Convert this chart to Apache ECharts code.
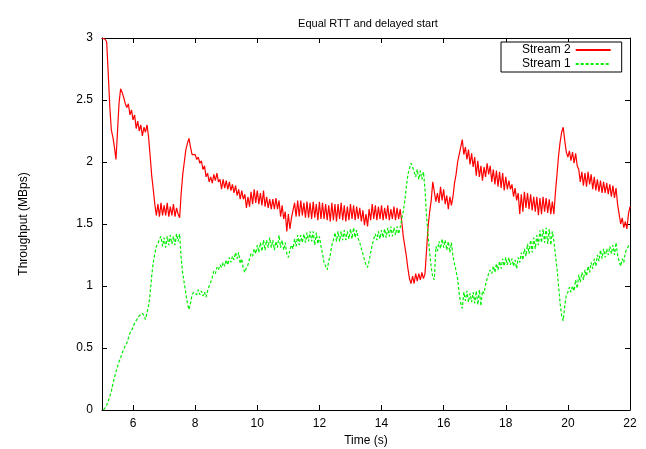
<!DOCTYPE html>
<html>
<head>
<meta charset="utf-8">
<script src="https://cdn.jsdelivr.net/npm/echarts@6/dist/echarts.min.js"></script>
<style>
html,body{margin:0;padding:0;background:#fff;}
#chart{width:646px;height:449px;}
</style>
</head>
<body>
<div id="chart"></div>
<script>
// Time grid: samples every 0.05 s starting at 5.0 s
const timeStart = 5.0;
const timeStep = 0.05;
const xTicks = [6, 8, 10, 12, 14, 16, 18, 20, 22];
const yTicks = [0, 0.5, 1, 1.5, 2, 2.5, 3];
const seriesNames = ['Stream 2', 'Stream 1'];

// Stream 2 throughput (MBps) (one row per second)
const stream2 = [
  3.00,3.00,2.99,2.97,2.72,2.45,2.26,2.20,2.12,2.02,2.25,2.48,2.59,2.56,2.52,2.47,2.44,2.47,2.38,2.42,
  2.34,2.38,2.27,2.33,2.25,2.30,2.21,2.28,2.24,2.30,2.20,2.05,1.89,1.78,1.66,1.57,1.66,1.56,1.67,1.57,
  1.65,1.57,1.67,1.56,1.64,1.57,1.66,1.56,1.63,1.58,1.55,1.75,1.90,2.00,2.10,2.15,2.19,2.12,2.06,2.05,
  2.06,2.02,2.04,1.99,2.01,1.94,1.97,1.88,1.91,1.84,1.88,1.83,1.90,1.85,1.91,1.84,1.86,1.78,1.86,1.79,
  1.85,1.78,1.84,1.77,1.82,1.75,1.81,1.73,1.78,1.70,1.77,1.70,1.74,1.63,1.72,1.64,1.76,1.66,1.78,1.67,
  1.77,1.66,1.75,1.65,1.77,1.64,1.72,1.63,1.70,1.62,1.70,1.62,1.71,1.62,1.69,1.56,1.65,1.54,1.60,1.44,
  1.58,1.46,1.55,1.56,1.67,1.56,1.69,1.56,1.69,1.57,1.67,1.55,1.68,1.55,1.67,1.54,1.68,1.55,1.66,1.53,
  1.68,1.54,1.67,1.54,1.66,1.53,1.65,1.52,1.67,1.53,1.66,1.52,1.66,1.54,1.67,1.53,1.65,1.52,1.64,1.53,
  1.66,1.54,1.65,1.53,1.64,1.54,1.63,1.52,1.61,1.49,1.58,1.48,1.62,1.53,1.66,1.54,1.65,1.53,1.64,1.54,
  1.65,1.53,1.63,1.54,1.65,1.53,1.62,1.54,1.64,1.53,1.63,1.54,1.62,1.52,1.40,1.32,1.24,1.14,1.06,1.02,
  1.08,1.02,1.10,1.04,1.10,1.05,1.11,1.06,1.10,1.29,1.48,1.60,1.69,1.84,1.76,1.68,1.75,1.67,1.80,1.69,
  1.78,1.66,1.73,1.62,1.72,1.65,1.72,1.83,1.90,2.00,2.06,2.12,2.18,2.06,2.12,2.02,2.10,1.98,2.07,1.96,
  2.04,1.89,2.01,1.88,1.97,1.85,1.96,1.88,1.99,1.90,1.97,1.84,1.94,1.82,1.93,1.80,1.92,1.79,1.91,1.77,
  1.88,1.78,1.85,1.78,1.82,1.72,1.79,1.69,1.75,1.58,1.74,1.60,1.76,1.63,1.75,1.62,1.74,1.61,1.72,1.60,
  1.72,1.57,1.71,1.58,1.72,1.60,1.71,1.59,1.70,1.58,1.68,1.58,1.76,1.90,2.05,2.16,2.24,2.28,2.17,2.08,
  2.04,2.09,2.01,2.08,1.99,2.07,1.97,1.94,1.84,1.92,1.81,1.91,1.80,1.92,1.82,1.90,1.78,1.88,1.77,1.86,
  1.76,1.85,1.75,1.84,1.75,1.83,1.74,1.82,1.72,1.81,1.71,1.79,1.66,1.58,1.50,1.55,1.47,1.52,1.46,1.58,
  1.64
];

// Stream 1 throughput (MBps) (one row per second)
const stream1 = [
  null,0.00,0.02,0.04,0.07,0.11,0.15,0.21,0.26,0.31,0.35,0.39,0.42,0.46,0.49,0.52,0.54,0.58,0.62,0.64,
  0.67,0.70,0.71,0.74,0.76,0.75,0.78,0.76,0.73,0.72,0.84,0.94,1.08,1.19,1.26,1.32,1.34,1.38,1.40,1.32,
  1.39,1.31,1.40,1.33,1.41,1.34,1.40,1.33,1.42,1.36,1.42,1.22,1.10,1.02,0.94,0.86,0.81,0.86,0.93,0.95,
  0.96,0.93,0.97,0.93,0.96,0.92,0.95,0.91,0.96,1.00,1.03,1.07,1.12,1.10,1.15,1.13,1.17,1.15,1.19,1.16,
  1.21,1.17,1.23,1.19,1.24,1.21,1.27,1.22,1.27,1.18,1.22,1.14,1.11,1.15,1.17,1.22,1.26,1.24,1.30,1.26,
  1.33,1.27,1.35,1.28,1.37,1.29,1.37,1.31,1.39,1.31,1.37,1.29,1.36,1.31,1.41,1.31,1.37,1.29,1.35,1.26,
  1.23,1.29,1.33,1.30,1.38,1.32,1.41,1.33,1.41,1.35,1.42,1.35,1.43,1.36,1.44,1.36,1.44,1.33,1.43,1.34,
  1.40,1.32,1.26,1.19,1.16,1.13,1.20,1.25,1.33,1.37,1.43,1.36,1.44,1.36,1.44,1.37,1.45,1.37,1.44,1.38,
  1.46,1.38,1.47,1.39,1.45,1.38,1.35,1.30,1.26,1.21,1.17,1.15,1.20,1.27,1.33,1.38,1.42,1.37,1.44,1.38,
  1.45,1.39,1.46,1.39,1.47,1.40,1.48,1.40,1.47,1.41,1.48,1.42,1.47,1.54,1.60,1.69,1.80,1.90,1.95,1.99,
  1.96,1.92,1.88,1.94,1.86,1.93,1.86,1.92,1.78,1.56,1.40,1.27,1.15,1.07,1.05,1.32,1.28,1.36,1.30,1.38,
  1.31,1.37,1.29,1.36,1.27,1.35,1.24,1.18,1.12,1.06,0.94,0.86,0.82,0.95,0.88,0.96,0.87,0.94,0.87,0.95,
  0.86,0.96,0.85,0.97,0.84,0.96,0.94,1.01,1.06,1.10,1.13,1.10,1.16,1.11,1.18,1.13,1.20,1.14,1.22,1.16,
  1.23,1.17,1.23,1.17,1.22,1.16,1.21,1.14,1.23,1.19,1.27,1.21,1.30,1.24,1.34,1.26,1.37,1.27,1.39,1.30,
  1.41,1.33,1.45,1.35,1.46,1.35,1.47,1.34,1.46,1.33,1.44,1.36,1.25,1.14,1.00,0.86,0.76,0.72,0.84,0.93,
  0.95,0.99,0.95,1.00,0.96,1.05,0.98,1.09,1.03,1.11,1.05,1.13,1.08,1.16,1.11,1.19,1.14,1.22,1.16,1.25,
  1.20,1.29,1.22,1.30,1.23,1.30,1.25,1.32,1.26,1.33,1.25,1.35,1.25,1.20,1.16,1.22,1.19,1.27,1.30,1.32,
  1.34
];

function toPairs(vals) {
  return vals.map((v, i) => [+(timeStart + i * timeStep).toFixed(2), v]);
}

const FONT = '"Liberation Sans", Arial, sans-serif';
const chart = echarts.init(document.getElementById('chart'), null, {renderer: 'canvas'});

const tickStyle = {show: true, inside: true, length: 5, lineStyle: {color: '#000', width: 1}};
const lineAxis = {show: true, onZero: false, lineStyle: {color: '#000', width: 1}};

chart.setOption({
  animation: false,
  backgroundColor: '#fff',
  title: {
    text: 'Equal RTT and delayed start',
    left: 363, top: 13, textAlign: 'center',
    textStyle: {fontFamily: FONT, fontSize: 11, fontWeight: 'normal', color: '#000'}
  },
  legend: {
    data: seriesNames,
    orient: 'vertical',
    left: 501, top: 42,
    align: 'right',
    itemWidth: 35, itemHeight: 10, itemGap: 2,
    padding: [2, 10, 2, 21],
    borderColor: '#000', borderWidth: 1,
    backgroundColor: '#fff',
    itemStyle: {opacity: 0},
    textStyle: {fontFamily: FONT, fontSize: 12, color: '#000'}
  },
  grid: {left: 102, right: 16, top: 38, bottom: 39, outerBoundsMode: 'none'},
  xAxis: [{
    type: 'value', min: 5, max: 22, position: 'bottom',
    name: 'Time (s)', nameLocation: 'middle', nameGap: 25,
    nameTextStyle: {fontFamily: FONT, fontSize: 12, color: '#000'},
    axisLine: lineAxis,
    axisTick: Object.assign({customValues: xTicks}, tickStyle),
    axisLabel: {customValues: xTicks, margin: 8, fontFamily: FONT, fontSize: 12, color: '#000'},
    splitLine: {show: false}
  }, {
    type: 'value', min: 5, max: 22, position: 'top',
    axisLine: lineAxis,
    axisTick: Object.assign({customValues: xTicks}, tickStyle),
    axisLabel: {show: false},
    splitLine: {show: false}
  }],
  yAxis: [{
    type: 'value', min: 0, max: 3, interval: 0.5, position: 'left',
    name: 'Throughput (MBps)', nameLocation: 'middle', nameGap: 72, nameRotate: 90,
    nameTextStyle: {fontFamily: FONT, fontSize: 12, color: '#000'},
    axisLine: lineAxis,
    axisTick: tickStyle,
    axisLabel: {margin: 9, fontFamily: FONT, fontSize: 12, color: '#000',
      formatter: v => String(v)},
    splitLine: {show: false}
  }, {
    type: 'value', min: 0, max: 3, interval: 0.5, position: 'right',
    axisLine: lineAxis,
    axisTick: tickStyle,
    axisLabel: {show: false},
    splitLine: {show: false}
  }],
  series: [{
    name: seriesNames[0], type: 'line', xAxisIndex: 0, yAxisIndex: 0,
    data: toPairs(stream2), symbol: 'none', showSymbol: false,
    lineStyle: {color: '#ff0000', width: 1.2},
    itemStyle: {color: '#ff0000'}
  }, {
    name: seriesNames[1], type: 'line', xAxisIndex: 0, yAxisIndex: 0,
    data: toPairs(stream1), symbol: 'none', showSymbol: false,
    lineStyle: {color: '#00ee00', width: 1.2, type: [3, 2]},
    itemStyle: {color: '#00ee00'}
  }]
});
</script>
</body>
</html>
